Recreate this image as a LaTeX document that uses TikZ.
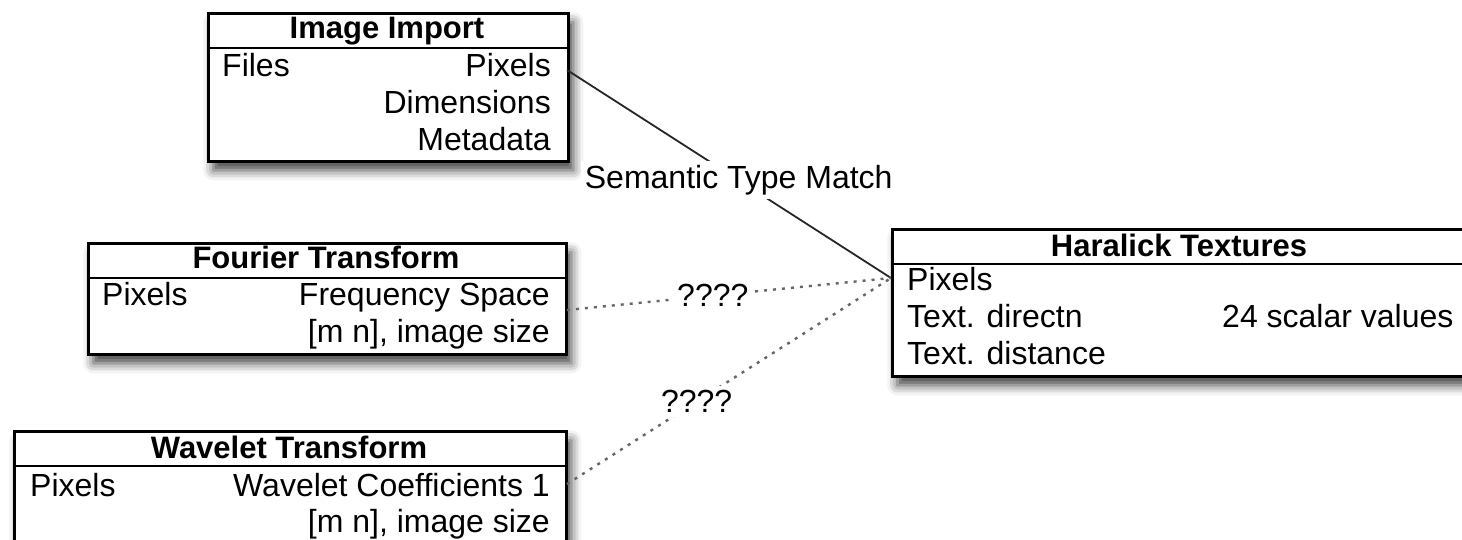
\documentclass[tikz,border=0pt]{standalone}
\usepackage{fontspec}
\setmainfont{Liberation Sans}
\usetikzlibrary{shadows.blur}
\begin{document}
\begin{tikzpicture}[x=1pt,y=-1pt,
  box/.style={draw=black,line width=2.6pt,fill=white,anchor=north west,inner sep=0pt,
    blur shadow={shadow xshift=5pt,shadow yshift=-9pt,shadow blur radius=10pt,shadow opacity=75}},
  divider/.style={line width=2.6pt},
  txt/.style={inner sep=0pt,text=black,font=\fontsize{32}{38}\selectfont},
  ttl/.style={txt,font=\fontsize{31}{37}\selectfont\bfseries,anchor=base},
  lft/.style={txt,anchor=base west},
  rgt/.style={txt,anchor=base east},
  solidlink/.style={line width=1.8pt,black!85},
  dotlink/.style={line width=2.4pt,black!60,dash pattern=on 3pt off 6pt},
  lbl/.style={txt,fill=white,inner sep=4pt}]
\useasboundingbox (0,0) rectangle (1462,539);
\clip (0,0) rectangle (1462,539);

% Image Import
\node[box,minimum width=360pt,minimum height=148pt] (imp) at (207,12) {};
\draw[divider] (207,48) -- (567,48);
\node[ttl] (impT) at (387,38) {Image Import};
\node[lft] (impF) at (222,76) {Files};
\node[rgt] (impP) at (551,76) {Pixels};
\node[rgt] (impD) at (551,113) {Dimensions};
\node[rgt] (impM) at (551,150) {Metadata};

% Fourier Transform
\node[box,minimum width=478pt,minimum height=111pt] (fou) at (87,242) {};
\draw[divider] (87,278) -- (565,278);
\node[ttl] (fouT) at (326,268) {Fourier Transform};
\node[lft] (fouP) at (102,305) {Pixels};
\node[rgt] (fouF) at (550,305) {Frequency Space};
\node[rgt] (fouS) at (550,342) {[m n], image size};

% Wavelet Transform
\node[box,minimum width=552pt,minimum height=140pt] (wav) at (13,430) {};
\draw[divider] (13,466) -- (565,466);
\node[ttl] (wavT) at (289,458) {Wavelet Transform};
\node[lft] (wavP) at (30,496) {Pixels};
\node[rgt] (wavC) at (550,496) {Wavelet Coefficients 1};
\node[rgt] (wavS) at (550,532) {[m n], image size};

% Haralick Textures
\node[box,minimum width=576pt,minimum height=147pt] (har) at (891,228) {};
\draw[divider] (891,264) -- (1467,264);
\node[ttl] (harT) at (1179,256) {Haralick Textures};
\node[lft] (harP) at (907,290) {Pixels};
\node[lft] (harD) at (907,327) {Text. directn};
\node[lft] (harS) at (907,364) {Text. distance};
\node[lft] (harV) at (1222,327) {24 scalar values};

% connector end points
\coordinate (impOut) at (567,70);
\coordinate (fouOut) at (567,310);
\coordinate (wavOut) at (567,484);
\coordinate (harIn) at (891,278);

\draw[solidlink] (impOut) -- node[lbl,pos=0.53] (semL) {Semantic Type Match} (harIn);
\draw[dotlink] (fouOut) -- node[lbl,pos=0.45] (q1) {????} (harIn);
\draw[dotlink] (wavOut) -- node[lbl,pos=0.4] (q2) {????} (harIn);
\end{tikzpicture}
\end{document}
